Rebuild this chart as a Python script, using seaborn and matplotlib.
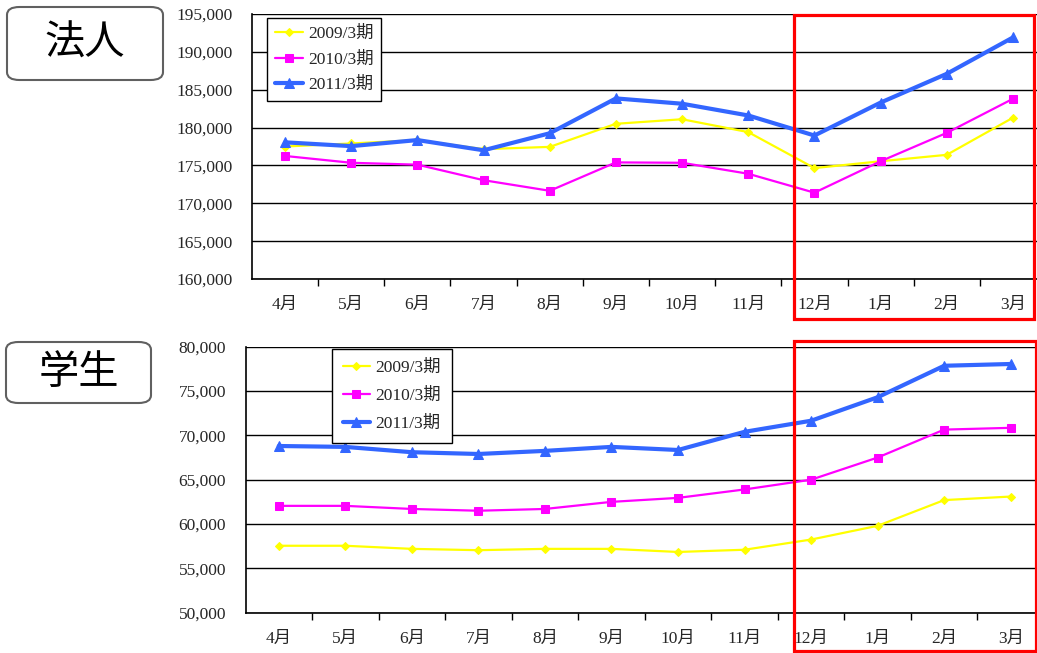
import matplotlib
matplotlib.use("Agg")
import matplotlib.pyplot as plt
from matplotlib.patches import FancyBboxPatch, Rectangle
from matplotlib.ticker import FuncFormatter, FixedLocator
import seaborn as sns
import pandas as pd

months = ["4月", "5月", "6月", "7月", "8月", "9月", "10月", "11月", "12月", "1月", "2月", "3月"]
series_names = ["2009/3期", "2010/3期", "2011/3期"]

corp_2009 = [177500, 177900, 178350, 177150, 177450, 180500, 181100, 179400, 174650, 175550, 176400, 181300]
corp_2010 = [176250, 175350, 175100, 173050, 171650, 175400, 175350, 173900, 171400, 175550, 179300, 183800]
corp_2011 = [178050, 177550, 178350, 177000, 179250, 183850, 183150, 181600, 178950, 183300, 187100, 191900]

stud_2009 = [57550, 57550, 57200, 57050, 57200, 57200, 56850, 57100, 58250, 59800, 62700, 63100]
stud_2010 = [62050, 62050, 61700, 61500, 61700, 62500, 62950, 63900, 65000, 67500, 70650, 70850]
stud_2011 = [68800, 68700, 68100, 67900, 68250, 68700, 68350, 70400, 71650, 74300, 77850, 78050]

sns.set_style("white")
serif = ["Liberation Serif", "Noto Sans CJK JP"]
plt.rcParams["font.family"] = serif

W, H = 1037, 653
fig = plt.figure(figsize=(W / 100, H / 100), dpi=100)

colors = ["#FFFF00", "#FF00FF", "#3366FF"]
markers = ["D", "s", "^"]
msizes = [4.5, 5.5, 7]
lws = [1.6, 1.6, 3.0]
FS = 12.5


def px_axes(l, r, t, b):
    return fig.add_axes([l / W, 1 - b / H, (r - l) / W, (b - t) / H])


def draw(ax, data, ylim, step, leg_anchor, leg_kw):
    for i, (name, vals) in enumerate(zip(series_names, data)):
        df = pd.DataFrame({"month": months, "value": vals})
        sns.lineplot(data=df, x="month", y="value", ax=ax, sort=False,
                     color=colors[i], marker=markers[i], markersize=msizes[i],
                     markeredgecolor=colors[i], linewidth=lws[i], label=name)
    ax.set_xlim(-0.5, 11.5)
    ax.set_ylim(*ylim)
    ax.set_yticks(range(ylim[0], ylim[1] + 1, step))
    ax.yaxis.set_major_formatter(FuncFormatter(lambda v, p: f"{int(v):,}"))
    ax.grid(axis="y", color="black", linewidth=1)
    ax.grid(axis="x", visible=False)
    ax.set_xlabel("")
    ax.set_ylabel("")
    for s in ["top", "right"]:
        ax.spines[s].set_visible(False)
    for s in ["left", "bottom"]:
        ax.spines[s].set_color("black")
        ax.spines[s].set_linewidth(1.2)
    ax.tick_params(axis="x", which="major", length=0, pad=13, labelsize=FS)
    ax.tick_params(axis="y", which="major", length=0, pad=14, labelsize=FS)
    ax.xaxis.set_minor_locator(FixedLocator([k + 0.5 for k in range(11)]))
    ax.tick_params(axis="x", which="minor", length=5, width=1, color="black", direction="out", bottom=True)
    leg = ax.legend(loc="upper left", bbox_to_anchor=leg_anchor, frameon=True, fancybox=False,
                    edgecolor="black", fontsize=FS, handlelength=1.6, handletextpad=0.3,
                    borderaxespad=0, **leg_kw)
    leg.get_frame().set_linewidth(1.0)
    leg.get_frame().set_alpha(1)


ax1 = px_axes(252, 1046, 14, 279)
draw(ax1, [corp_2009, corp_2010, corp_2011], (160000, 195000), 5000, (0.019, 0.985),
     dict(labelspacing=0.55, borderpad=0.45))

ax2 = px_axes(245.5, 1044, 346.7, 612.7)
draw(ax2, [stud_2009, stud_2010, stud_2011], (50000, 80000), 5000, (0.108, 0.991),
     dict(labelspacing=0.68, borderpad=0.62))

# Title boxes
for (l, t, r, b), txt in [((7, 7, 163, 80), "法人"), ((6, 342, 151, 403), "学生")]:
    box = FancyBboxPatch((l / W, 1 - b / H), (r - l) / W, (b - t) / H,
                         boxstyle="round,pad=0,rounding_size=0.012",
                         transform=fig.transFigure, facecolor="white",
                         edgecolor="#606060", linewidth=1.5)
    fig.patches.append(box)
    fig.text((l + r) / 2 / W, 1 - (t + b) / 2 / H, txt, ha="center", va="center",
             fontsize=29, family=["Noto Sans CJK JP"], weight="normal", color="black")

# Red highlight rectangles
for (l, t, r, b) in [(794, 15, 1034, 319), (794, 341, 1036, 651)]:
    rect = Rectangle((l / W, 1 - b / H), (r - l) / W, (b - t) / H, transform=fig.transFigure,
                     fill=False, edgecolor="#FF0000", linewidth=2.3, zorder=10)
    fig.patches.append(rect)

fig.savefig("out.png", dpi=100)
